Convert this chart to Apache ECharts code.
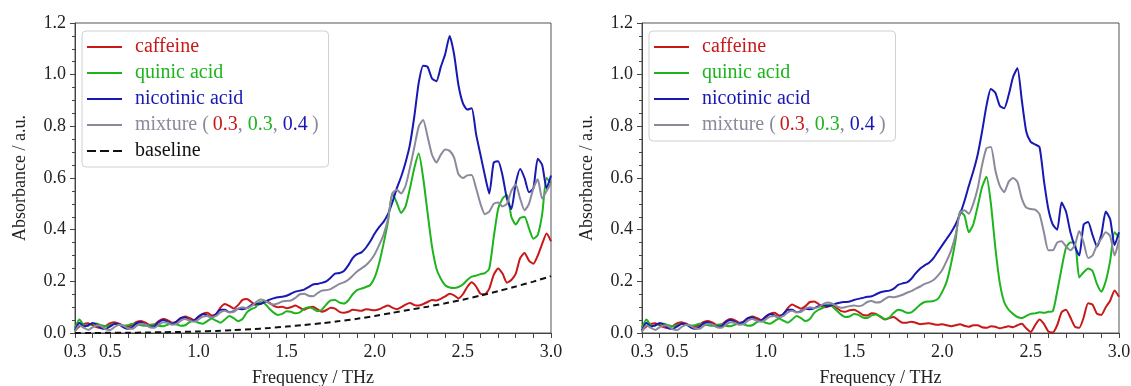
<!DOCTYPE html>
<html><head><meta charset="utf-8">
<script src="https://cdn.jsdelivr.net/npm/echarts@6/dist/echarts.min.js"></script>
<style>html,body{margin:0;padding:0;background:#fff}#c{width:1131px;height:386px}</style>
</head><body><div id="c"></div>
<script>
// ---------- data ----------
const freq = [0.300,0.325,0.350,0.375,0.400,0.425,0.450,0.475,0.500,0.525,
 0.550,0.575,0.600,0.625,0.650,0.675,0.700,0.725,0.750,0.775,
 0.800,0.825,0.850,0.875,0.900,0.925,0.950,0.975,1.000,1.025,
 1.050,1.075,1.100,1.125,1.150,1.175,1.200,1.225,1.250,1.275,
 1.300,1.325,1.350,1.375,1.400,1.425,1.450,1.475,1.500,1.525,
 1.550,1.575,1.600,1.625,1.650,1.675,1.700,1.725,1.750,1.775,
 1.800,1.825,1.850,1.875,1.900,1.925,1.950,1.975,2.000,2.025,
 2.050,2.075,2.100,2.125,2.150,2.175,2.200,2.225,2.250,2.275,
 2.300,2.325,2.350,2.375,2.400,2.425,2.450,2.475,2.500,2.525,
 2.550,2.575,2.600,2.625,2.650,2.675,2.700,2.725,2.750,2.775,
 2.800,2.825,2.850,2.875,2.900,2.925,2.950,2.975,3.000];

// left panel
const caffeineL = [0.010,0.025,0.035,0.038,0.030,0.022,0.020,0.028,0.038,0.042,
 0.036,0.027,0.024,0.032,0.043,0.046,0.040,0.031,0.032,0.046,
 0.054,0.050,0.040,0.042,0.057,0.064,0.058,0.050,0.060,0.074,
 0.078,0.068,0.072,0.098,0.112,0.105,0.095,0.108,0.128,0.132,
 0.120,0.108,0.112,0.122,0.118,0.106,0.100,0.102,0.096,0.100,
 0.106,0.098,0.090,0.098,0.102,0.092,0.082,0.088,0.098,0.094,
 0.082,0.078,0.082,0.090,0.088,0.086,0.092,0.090,0.088,0.092,
 0.100,0.106,0.098,0.092,0.100,0.110,0.116,0.108,0.106,0.112,
 0.120,0.128,0.126,0.132,0.142,0.152,0.146,0.134,0.150,0.178,
 0.196,0.180,0.152,0.150,0.172,0.225,0.250,0.230,0.195,0.205,
 0.230,0.290,0.310,0.280,0.268,0.300,0.345,0.385,0.355];
const quinicL = [0.020,0.052,0.030,0.028,0.038,0.036,0.030,0.026,0.030,0.036,
 0.032,0.028,0.030,0.036,0.034,0.030,0.028,0.032,0.034,0.028,
 0.026,0.032,0.038,0.034,0.028,0.030,0.042,0.046,0.040,0.036,
 0.046,0.056,0.048,0.040,0.052,0.066,0.058,0.046,0.054,0.080,
 0.092,0.100,0.120,0.114,0.096,0.080,0.070,0.074,0.084,0.082,
 0.076,0.080,0.094,0.100,0.094,0.084,0.090,0.110,0.126,0.128,
 0.118,0.114,0.126,0.150,0.166,0.172,0.178,0.186,0.215,0.270,
 0.345,0.430,0.540,0.505,0.465,0.490,0.560,0.640,0.695,0.600,
 0.465,0.335,0.250,0.210,0.185,0.176,0.174,0.178,0.188,0.205,
 0.218,0.222,0.228,0.232,0.250,0.370,0.480,0.520,0.535,0.450,
 0.420,0.445,0.450,0.405,0.365,0.380,0.460,0.600,0.580];
const nicotinicL = [0.010,0.040,0.025,0.030,0.038,0.032,0.018,0.016,0.026,0.036,
 0.034,0.022,0.016,0.024,0.038,0.042,0.032,0.024,0.026,0.042,
 0.050,0.044,0.036,0.044,0.058,0.060,0.050,0.048,0.064,0.074,
 0.068,0.060,0.074,0.090,0.090,0.080,0.084,0.094,0.092,0.096,
 0.108,0.114,0.112,0.120,0.128,0.134,0.138,0.140,0.144,0.152,
 0.160,0.164,0.168,0.178,0.188,0.190,0.194,0.200,0.214,0.230,
 0.232,0.240,0.262,0.290,0.305,0.312,0.330,0.355,0.385,0.410,
 0.430,0.460,0.505,0.560,0.605,0.660,0.730,0.840,0.970,1.035,
 1.030,0.985,0.975,1.030,1.080,1.150,1.080,0.960,0.890,0.865,
 0.870,0.770,0.690,0.610,0.540,0.660,0.665,0.610,0.520,0.480,
 0.580,0.635,0.600,0.545,0.560,0.675,0.650,0.560,0.610];
const mixtureL = [0.005,0.030,0.020,0.012,0.022,0.030,0.026,0.014,0.012,0.024,
 0.032,0.028,0.018,0.016,0.028,0.036,0.032,0.022,0.020,0.032,
 0.042,0.040,0.032,0.034,0.048,0.054,0.048,0.044,0.052,0.064,
 0.066,0.060,0.066,0.080,0.086,0.080,0.082,0.094,0.100,0.096,
 0.104,0.118,0.130,0.126,0.116,0.110,0.114,0.122,0.124,0.126,
 0.136,0.150,0.152,0.144,0.142,0.154,0.164,0.166,0.170,0.180,
 0.190,0.196,0.206,0.222,0.238,0.250,0.262,0.280,0.305,0.340,
 0.380,0.440,0.540,0.555,0.540,0.570,0.640,0.720,0.800,0.825,
 0.760,0.690,0.660,0.690,0.710,0.705,0.680,0.615,0.600,0.610,
 0.612,0.560,0.500,0.460,0.470,0.500,0.505,0.490,0.500,0.550,
 0.575,0.520,0.475,0.500,0.560,0.595,0.520,0.550,0.580];
const baselineFreq = [0.3,0.4,0.5,0.6,0.7,0.8,0.9,1.0,1.1,1.2,1.3,1.4,1.5,1.6,1.7,1.8,1.9,2.0,2.1,2.2,2.3,2.4,2.5,2.6,2.7,2.8,2.9,3.0];
const baselineL = [0.000,0.000,0.001,0.001,0.002,0.003,0.004,0.006,0.008,0.011,0.015,0.019,0.025,0.031,0.038,0.046,0.055,0.066,0.078,0.090,0.102,0.115,0.129,0.145,0.162,0.180,0.199,0.220];

// right panel
const caffeineR = [0.010,0.025,0.035,0.038,0.030,0.022,0.020,0.028,0.038,0.042,
 0.036,0.027,0.024,0.032,0.043,0.046,0.040,0.031,0.032,0.046,
 0.054,0.050,0.040,0.042,0.057,0.064,0.058,0.050,0.060,0.074,
 0.078,0.068,0.072,0.096,0.110,0.102,0.094,0.104,0.120,0.122,
 0.112,0.100,0.102,0.106,0.098,0.086,0.082,0.088,0.090,0.082,
 0.070,0.068,0.076,0.074,0.062,0.052,0.058,0.062,0.050,0.040,
 0.040,0.044,0.040,0.034,0.036,0.038,0.034,0.032,0.034,0.030,
 0.026,0.030,0.034,0.028,0.024,0.030,0.030,0.022,0.020,0.026,
 0.024,0.018,0.022,0.026,0.022,0.030,0.036,0.018,0.004,0.030,
 0.052,0.035,0.006,0.002,0.030,0.080,0.090,0.060,0.025,0.020,
 0.060,0.115,0.110,0.075,0.070,0.100,0.125,0.165,0.140];
const quinicR = [0.020,0.052,0.030,0.028,0.038,0.036,0.030,0.026,0.030,0.036,
 0.032,0.028,0.030,0.036,0.034,0.030,0.028,0.032,0.034,0.028,
 0.026,0.032,0.038,0.034,0.028,0.030,0.042,0.046,0.040,0.036,
 0.046,0.056,0.048,0.040,0.052,0.066,0.058,0.046,0.054,0.078,
 0.090,0.098,0.110,0.104,0.088,0.072,0.062,0.064,0.074,0.070,
 0.060,0.058,0.068,0.072,0.064,0.054,0.060,0.078,0.090,0.086,
 0.078,0.080,0.094,0.110,0.120,0.122,0.124,0.132,0.160,0.200,
 0.270,0.360,0.470,0.455,0.390,0.420,0.490,0.565,0.605,0.500,
 0.330,0.195,0.120,0.090,0.074,0.062,0.058,0.066,0.074,0.076,
 0.080,0.078,0.082,0.084,0.160,0.250,0.330,0.350,0.350,0.215,
 0.235,0.250,0.240,0.190,0.160,0.200,0.280,0.390,0.370];
const nicotinicR = [0.010,0.040,0.025,0.030,0.038,0.032,0.018,0.016,0.026,0.036,
 0.034,0.022,0.016,0.024,0.038,0.042,0.032,0.024,0.026,0.042,
 0.050,0.044,0.036,0.044,0.058,0.060,0.050,0.048,0.064,0.074,
 0.068,0.060,0.074,0.090,0.090,0.080,0.084,0.094,0.092,0.096,
 0.104,0.108,0.104,0.108,0.114,0.118,0.120,0.122,0.128,0.132,
 0.136,0.140,0.142,0.150,0.158,0.162,0.164,0.172,0.186,0.192,
 0.196,0.210,0.232,0.250,0.262,0.272,0.290,0.315,0.340,0.365,
 0.390,0.420,0.460,0.510,0.570,0.625,0.690,0.780,0.880,0.945,
 0.930,0.880,0.870,0.920,0.990,1.025,0.900,0.780,0.740,0.730,
 0.720,0.590,0.480,0.420,0.400,0.505,0.470,0.390,0.335,0.300,
 0.420,0.430,0.380,0.335,0.380,0.470,0.440,0.340,0.390];
const mixtureR = [0.005,0.030,0.020,0.012,0.022,0.030,0.026,0.014,0.012,0.024,
 0.032,0.028,0.018,0.016,0.028,0.036,0.032,0.022,0.020,0.032,
 0.042,0.040,0.032,0.034,0.048,0.054,0.048,0.044,0.052,0.064,
 0.066,0.060,0.066,0.080,0.086,0.080,0.082,0.094,0.100,0.096,
 0.100,0.112,0.118,0.114,0.104,0.098,0.100,0.104,0.106,0.104,
 0.108,0.120,0.124,0.118,0.120,0.132,0.140,0.138,0.142,0.148,
 0.156,0.162,0.172,0.180,0.190,0.196,0.205,0.222,0.245,0.280,
 0.320,0.380,0.465,0.475,0.462,0.500,0.560,0.650,0.715,0.720,
 0.630,0.570,0.545,0.585,0.600,0.585,0.520,0.485,0.480,0.478,
 0.460,0.390,0.320,0.320,0.350,0.355,0.335,0.320,0.340,0.395,
 0.350,0.290,0.300,0.340,0.365,0.390,0.375,0.300,0.360];

// axis ticks / labels
const xTickValues = [0.3,0.4,0.5,0.6,0.7,0.8,0.9,1.0,1.1,1.2,1.3,1.4,1.5,1.6,1.7,1.8,1.9,2.0,2.1,2.2,2.3,2.4,2.5,2.6,2.7,2.8,2.9,3.0];
const xLabelValues = [0.3,0.5,1.0,1.5,2.0,2.5,3.0];
const xName = 'Frequency / THz';
const yName = 'Absorbance / a.u.';
const seriesNames = ['caffeine','quinic acid','nicotinic acid','mixture','baseline'];

// ---------- styling ----------
const COL = {'caffeine':'#c81818','quinic acid':'#1eb41e','nicotinic acid':'#1818b4','mixture':'#8a8a9c','baseline':'#111111'};
const FONT = 'Liberation Serif';
const AX = '#444';
const SOLID_ICON = 'path://M0,0H35V2H0Z';
const DASH_ICON = 'path://M0,0H9V2H0ZM13,0H22V2H13ZM26,0H35V2H26Z';

function pairs(xs, ys){ return xs.map((x,i)=>[x, ys[i]]); }

function xAxisCfg(gi){
  return {type:'value', gridIndex:gi, min:0.3, max:3.0,
    name:xName, nameLocation:'middle', nameGap:36,
    nameTextStyle:{fontFamily:FONT,fontSize:18,color:'#222'},
    axisLine:{show:true,lineStyle:{color:AX,width:1}},
    axisTick:{show:true,customValues:xTickValues,length:5,lineStyle:{color:AX}},
    axisLabel:{customValues:xLabelValues,formatter:v=>Number(v).toFixed(1),margin:10,fontFamily:FONT,fontSize:18,color:'#222'},
    splitLine:{show:false}};
}
function yAxisCfg(gi){
  return {type:'value', gridIndex:gi, min:0, max:1.2, interval:0.2,
    name:yName, nameLocation:'middle', nameGap:46,
    nameTextStyle:{fontFamily:FONT,fontSize:18,color:'#222'},
    axisLine:{show:true,lineStyle:{color:AX,width:1}},
    axisTick:{show:true,length:5,lineStyle:{color:AX}},
    minorTick:{show:true,splitNumber:4,length:3,lineStyle:{color:AX}},
    axisLabel:{formatter:v=>Number(v).toFixed(1),margin:9,fontFamily:FONT,fontSize:18,color:'#222'},
    splitLine:{show:false}};
}
function line(name, xs, ys, gi, dashed){
  return {type:'line', name, xAxisIndex:gi, yAxisIndex:gi, data:pairs(xs,ys),
    symbol:'none', showSymbol:false, smooth:0.2, animation:false,
    lineStyle:{color:COL[name], width:2, type: dashed ? [6,4] : 'solid'},
    itemStyle:{color:COL[name]}};
}
const rich = {
  g:{color:COL['mixture'],fontFamily:FONT,fontSize:20},
  r:{color:COL['caffeine'],fontFamily:FONT,fontSize:20},
  q:{color:COL['quinic acid'],fontFamily:FONT,fontSize:20},
  b:{color:COL['nicotinic acid'],fontFamily:FONT,fontSize:20}
};
function legendCfg(left, names){
  return {left, top:31, orient:'vertical', padding:[6,10,6,5], itemGap:6,
    itemWidth:35, itemHeight:2,
    borderColor:'#d0d0d0', borderWidth:1, borderRadius:4,
    backgroundColor:'rgba(255,255,255,0.85)',
    data:names.map(n=>({name:n, icon: n==='baseline' ? DASH_ICON : SOLID_ICON,
      itemStyle:{color:COL[n]}, textStyle:{color:COL[n]}})),
    textStyle:{fontFamily:FONT,fontSize:20,lineHeight:20,padding:[0,0,0,8],rich},
    formatter:function(n){
      if(n==='mixture') return '{g|mixture (\u2009}{r|0.3}{g|, }{q|0.3}{g|, }{b|0.4}{g|\u2009)}';
      return n;
    }};
}

const option = {
  backgroundColor:'#fff',
  animation:false,
  grid:[
    {left:75, top:23, width:476, height:310, show:true, borderColor:'#555', borderWidth:1, containLabel:false, outerBoundsMode:'none'},
    {left:642, top:23, width:477, height:310, show:true, borderColor:'#555', borderWidth:1, containLabel:false, outerBoundsMode:'none'}
  ],
  xAxis:[xAxisCfg(0), xAxisCfg(1)],
  yAxis:[yAxisCfg(0), yAxisCfg(1)],
  legend:[legendCfg(82, seriesNames), legendCfg(649, seriesNames.slice(0,4))],
  series:[
    line('caffeine', freq, caffeineL, 0),
    line('quinic acid', freq, quinicL, 0),
    line('nicotinic acid', freq, nicotinicL, 0),
    line('mixture', freq, mixtureL, 0),
    line('baseline', baselineFreq, baselineL, 0, true),
    line('caffeine', freq, caffeineR, 1),
    line('quinic acid', freq, quinicR, 1),
    line('nicotinic acid', freq, nicotinicR, 1),
    line('mixture', freq, mixtureR, 1)
  ]
};
const chart = echarts.init(document.getElementById('c'), null, {renderer:'canvas'});
chart.setOption(option);
</script>
</body></html>
